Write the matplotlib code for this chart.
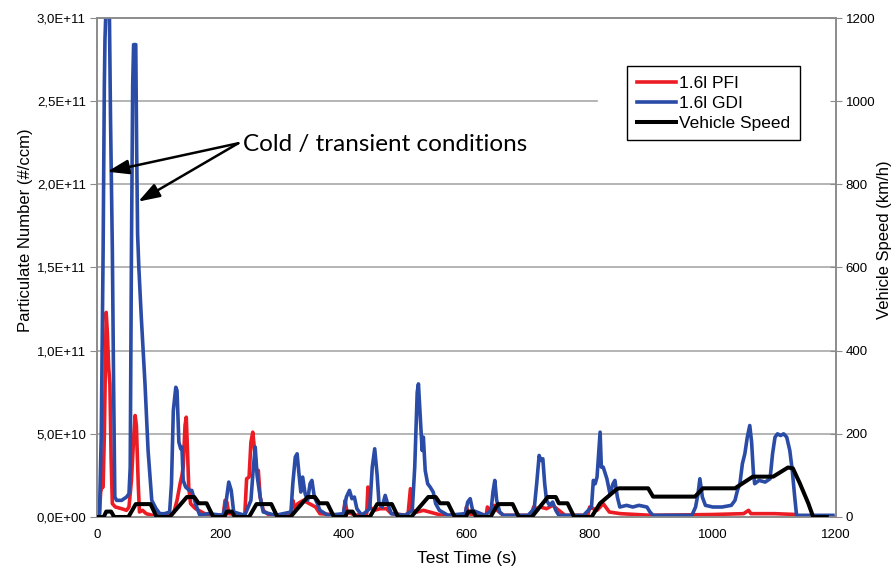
import matplotlib
matplotlib.use('Agg')
import matplotlib.pyplot as plt
from matplotlib.ticker import FuncFormatter, MultipleLocator

plt.rcParams['font.family'] = ['Liberation Sans', 'DejaVu Sans']

# values: (time s, particle number in 1E+10 #/ccm)
gdi = [(0, 0), (4, 0), (7, 5), (10, 16), (12, 26), (13, 28.7), (15, 31), (20, 31), (22, 24), (25, 16),
       (27, 8), (29, 1.2), (32, 1.0), (40, 1.0), (48, 1.2), (52, 1.4), (54, 3), (56, 16), (58, 26),
       (59.5, 28.4), (63, 28.4), (64.5, 22), (66, 17), (68, 15), (72, 12), (75, 10), (78, 8), (83, 4),
       (89, 1.0), (96, 0.5), (102, 0.2), (110, 0.2), (118, 0.3), (121, 2), (124, 6.4), (128, 7.8),
       (130, 7.6), (133, 4.5), (136, 4.1), (138, 4.2), (140, 2.2), (144, 1.8), (150, 1.6), (154, 1.6),
       (160, 0.8), (167, 0.1), (180, 0.2), (205, 0.1), (210, 1.0), (214, 2.1), (218, 1.6), (222, 0.3),
       (240, 0.1), (250, 1.0), (254, 3.0), (257, 4.2), (260, 2.5), (265, 1.2), (270, 0.3), (290, 0.1),
       (315, 0.3), (318, 2.0), (322, 3.6), (325, 3.8), (328, 2.6), (331, 1.5), (334, 2.4), (338, 1.4),
       (342, 1.0), (346, 2.0), (349, 2.2), (353, 1.2), (358, 0.8), (362, 0.4), (375, 0.1), (400, 0.2),
       (405, 1.2), (410, 1.6), (414, 1.1), (418, 1.2), (422, 0.5), (430, 0.1), (443, 0.5), (447, 3.0),
       (451, 4.1), (455, 2.5), (458, 0.8), (463, 0.6), (468, 1.3), (472, 0.8), (478, 0.2), (500, 0.1),
       (512, 0.4), (516, 3.0), (520, 7.5), (522, 8.0), (525, 6.0), (528, 4.0), (530, 4.8), (533, 2.8),
       (537, 2.0), (541, 1.8), (546, 1.5), (550, 0.8), (556, 0.4), (570, 0.1), (598, 0.2), (602, 0.9),
       (606, 1.1), (610, 0.4), (630, 0.1), (640, 0.4), (643, 1.5), (646, 2.2), (649, 1.0), (654, 0.3),
       (660, 0.1), (700, 0.1), (710, 0.5), (714, 2.0), (718, 3.7), (721, 3.4), (724, 3.5), (727, 2.0),
       (730, 1.0), (735, 0.7), (740, 0.9), (745, 0.4), (750, 0.1), (790, 0.1), (803, 0.6), (806, 2.2),
       (809, 2.0), (812, 2.4), (815, 4.0), (817, 5.1), (819, 3.0), (822, 3.0), (828, 2.3), (833, 1.4),
       (838, 2.0), (841, 2.2), (845, 1.2), (849, 0.6), (860, 0.7), (870, 0.6), (880, 0.7), (893, 0.6),
       (898, 0.3), (903, 0.1), (966, 0.1), (972, 0.6), (976, 1.4), (979, 2.3), (983, 1.2), (988, 0.7),
       (1000, 0.6), (1015, 0.6), (1030, 0.7), (1036, 1.0), (1040, 1.6), (1044, 2.0), (1048, 3.2),
       (1052, 3.8), (1056, 4.8), (1060, 5.5), (1063, 4.5), (1066, 2.6), (1068, 2.0), (1075, 2.2),
       (1085, 2.1), (1093, 2.3), (1097, 3.8), (1101, 4.8), (1105, 5.0), (1110, 4.9), (1115, 5.0),
       (1120, 4.8), (1125, 4.0), (1129, 2.8), (1133, 1.2), (1136, 0.1), (1195, 0.1)]

pfi = [(0, 0), (4, 0.2), (6, 1.5), (8, 1.8), (10, 1.8), (12, 5), (15, 12.3), (17, 11), (19, 9), (21, 8),
       (23, 3.5), (25, 0.8), (30, 0.6), (40, 0.5), (48, 0.4), (52, 0.6), (56, 2.2), (60, 5.0), (62, 6.1),
       (64, 5.5), (67, 2.0), (69, 0.3), (74, 0.4), (80, 0.2), (90, 0.1), (120, 0.1), (125, 0.3), (130, 1.0),
       (135, 2.0), (138, 2.5), (140, 3.0), (143, 5.5), (145, 6.0), (147, 4.0), (149, 1.8), (152, 0.8),
       (160, 0.5), (170, 0.3), (180, 0.1), (205, 0.1), (208, 1.0), (211, 0.9), (214, 0.2), (240, 0.1),
       (243, 2.3), (247, 2.4), (250, 4.5), (253, 5.1), (256, 4.0), (259, 2.8), (262, 2.8), (265, 1.2),
       (270, 0.4), (280, 0.1), (315, 0.1), (318, 1.0), (322, 0.5), (326, 0.8), (335, 1.0), (345, 0.8),
       (355, 0.6), (362, 0.2), (400, 0.1), (403, 1.0), (406, 0.3), (420, 0.1), (438, 0.2), (440, 1.8),
       (443, 0.6), (450, 0.4), (460, 0.5), (470, 0.5), (478, 0.2), (505, 0.1), (509, 1.7), (512, 0.4),
       (520, 0.3), (530, 0.4), (540, 0.3), (560, 0.1), (598, 0.1), (600, 0.6), (603, 0.2), (615, 0.1),
       (632, 0.1), (634, 0.6), (637, 0.4), (645, 0.7), (650, 0.4), (660, 0.1), (705, 0.1), (709, 0.6),
       (714, 0.5), (720, 0.6), (730, 0.5), (740, 0.7), (750, 0.4), (760, 0.1), (797, 0.1), (800, 0.6),
       (806, 0.5), (812, 0.4), (817, 0.6), (822, 0.8), (826, 0.6), (832, 0.3), (850, 0.2), (900, 0.1),
       (1000, 0.15), (1050, 0.2), (1058, 0.4), (1062, 0.2), (1100, 0.2), (1135, 0.15), (1140, 0.0),
       (1195, 0.0)]

# vehicle speed (time s, km/h)
speed = [(0, 0), (11, 0), (15, 13), (23, 13), (28, 0), (51, 0), (63, 31), (87, 31), (97, 0), (118, 0),
         (146, 48), (158, 48), (165, 33), (178, 33), (189, 0),
         (207, 0), (211, 13), (219, 13), (224, 0), (247, 0), (259, 31), (283, 31), (293, 0), (314, 0),
         (342, 48), (354, 48), (361, 33), (374, 33), (385, 0),
         (403, 0), (407, 13), (415, 13), (420, 0), (443, 0), (455, 31), (479, 31), (489, 0), (510, 0),
         (538, 48), (550, 48), (557, 33), (570, 33), (581, 0),
         (599, 0), (603, 13), (611, 13), (616, 0), (639, 0), (651, 31), (675, 31), (685, 0), (706, 0),
         (732, 48), (745, 48), (750, 33), (764, 33), (775, 0),
         (803, 0), (817, 33), (844, 67), (848, 69), (895, 69), (903, 49), (971, 49), (984, 69), (1036, 69),
         (1065, 97), (1098, 97), (1122, 119), (1130, 117), (1141, 82), (1155, 33), (1163, 0), (1185, 0)]

gdi_t, gdi_v = zip(*gdi)
pfi_t, pfi_v = zip(*pfi)
speed_t, speed_v = zip(*speed)

red = '#ec1c24'
blue = '#2a4ca6'
grid_c = '#a8a8a8'
spine_c = '#8c8c8c'

fig = plt.figure(figsize=(8.92, 5.68), dpi=100)
ax = fig.add_axes([0.1087, 0.0898, 0.8285, 0.8785])
ax2 = ax.twinx()

ax.set_xlim(0, 1200)
ax.set_ylim(0, 3e11)
ax2.set_ylim(0, 1200)

# horizontal grid, the 2,5E+11 line is cut by the legend area
for g in [0.5e11, 1.0e11, 1.5e11, 2.0e11]:
    ax.axhline(g, color=grid_c, lw=1.2, zorder=0)
ax.axhline(2.5e11, xmax=0.677, color=grid_c, lw=1.2, zorder=0)

l1, = ax.plot(pfi_t, [v * 1e10 for v in pfi_v], color=red, lw=2.6, label='1.6l PFI', zorder=2)
l2, = ax.plot(gdi_t, [v * 1e10 for v in gdi_v], color=blue, lw=2.6, label='1.6l GDI', zorder=3)
l3, = ax2.plot(speed_t, speed_v, color='black', lw=2.9, label='Vehicle Speed', zorder=4)

ax.yaxis.set_major_locator(MultipleLocator(0.5e11))
ax.yaxis.set_major_formatter(FuncFormatter(lambda v, p: f'{v:.1E}'.replace('.', ',')))
ax.xaxis.set_major_locator(MultipleLocator(200))
ax2.yaxis.set_major_locator(MultipleLocator(200))

for a in (ax, ax2):
    for s in a.spines.values():
        s.set_color(spine_c)
        s.set_linewidth(1.2)
ax.tick_params(axis='y', direction='out', length=5, color=spine_c, labelsize=9.5, pad=3)
ax.tick_params(axis='x', direction='out', length=0, labelsize=9.5, pad=9)
ax2.tick_params(axis='y', direction='inout', length=8, color=spine_c, labelsize=9.5, pad=3)

ax.set_xlabel('Test Time (s)', fontsize=12.5, labelpad=7)
ax.set_ylabel('Particulate Number (#/ccm)', fontsize=12)
ax2.set_ylabel('Vehicle Speed (km/h)', fontsize=12)
ax.yaxis.set_label_coords(-0.0866, 0.575)
ax2.yaxis.set_label_coords(1.0555, 0.555)

leg = ax2.legend(handles=[l1, l2, l3], loc='upper right', bbox_to_anchor=(0.951, 0.904),
                 borderaxespad=0, fontsize=12.5, fancybox=False, framealpha=1, edgecolor='black',
                 handlelength=2.3, handletextpad=0.15, labelspacing=0.28, borderpad=0.55)
leg.get_frame().set_linewidth(1.0)

ax.text(237, 2.24e11, 'Cold / transient conditions', fontsize=17.5, family=['Lato', 'DejaVu Sans'],
        va='center', ha='left')
arrow = dict(arrowstyle='-|>,head_length=0.65,head_width=0.22', color='black', lw=1.8,
             mutation_scale=20, shrinkA=0, shrinkB=0)
ax.annotate('', xy=(16.7, 2.076e11), xytext=(229.5, 2.247e11), arrowprops=arrow)
ax.annotate('', xy=(67, 1.896e11), xytext=(229.5, 2.247e11), arrowprops=arrow)

fig.savefig('out.png', dpi=100)
